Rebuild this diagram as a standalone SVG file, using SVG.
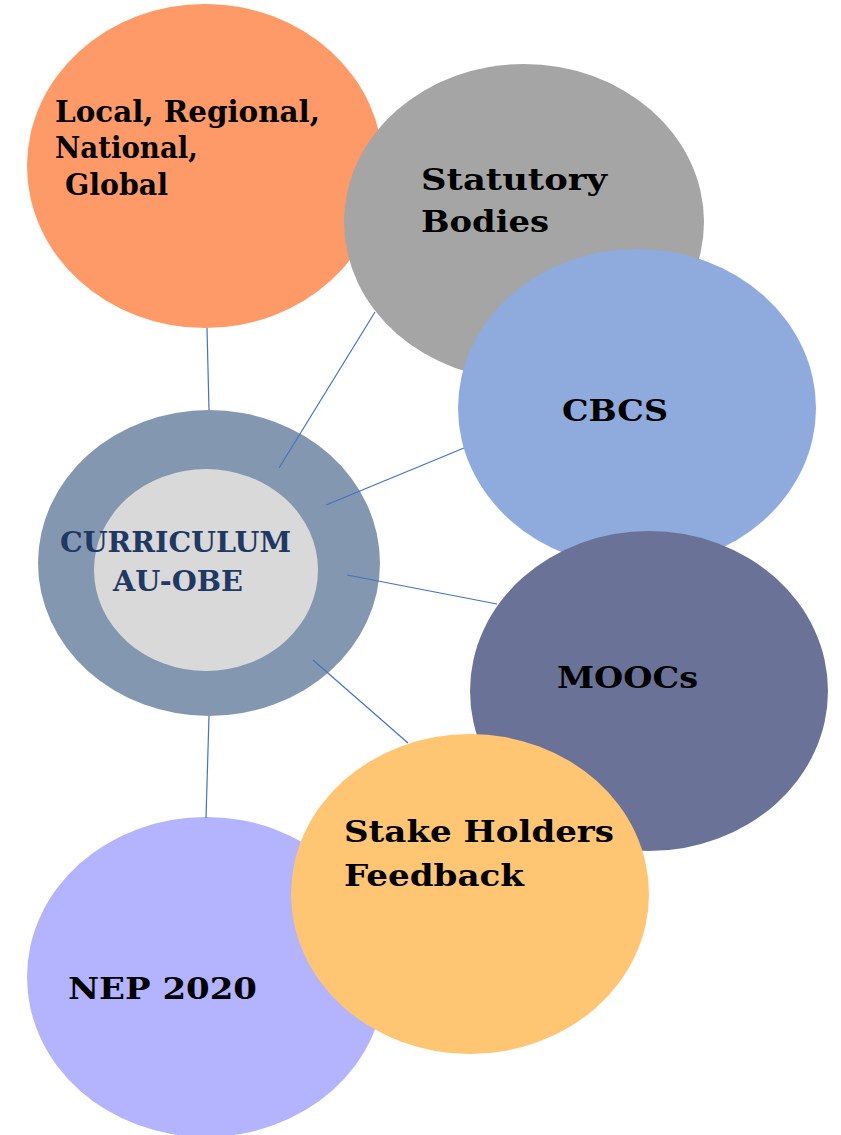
<svg xmlns="http://www.w3.org/2000/svg" width="841" height="1135" viewBox="0 0 841 1135">
<style>
text{font-family:"DejaVu Serif","Liberation Serif",serif;font-weight:bold;fill:#000}
.big{font-size:30px}
.ctr{font-size:27px;fill:#1F3864}
.conn line{stroke:#4472C4;stroke-width:1.2}
</style>
<rect width="841" height="1135" fill="#fff"/>
<g id="local"><ellipse cx="205" cy="166" rx="178" ry="162" fill="#FD9A68"/></g>
<g id="statutory"><ellipse cx="524" cy="222" rx="180" ry="158" fill="#A5A5A5"/></g>
<g id="cbcs"><ellipse cx="637" cy="408" rx="179" ry="159" fill="#8FAADC"/></g>
<g id="moocs"><ellipse cx="649" cy="691" rx="179" ry="160" fill="#6A7397"/></g>
<g id="nep"><ellipse cx="206" cy="977" rx="179" ry="160" fill="#B3B3FE"/></g>
<g id="stake"><ellipse cx="470" cy="894" rx="179" ry="160" fill="#FEC573"/></g>
<g id="curriculum">
<ellipse cx="209" cy="563" rx="171" ry="153" fill="#8497B0"/>
<ellipse cx="206" cy="570" rx="112" ry="101" fill="#D9D9D9"/>
</g>
<g class="conn" id="connectors">
<line x1="207" y1="328" x2="209" y2="410"/>
<line x1="375" y1="312" x2="279" y2="468"/>
<line x1="464" y1="448" x2="326" y2="505"/>
<line x1="347" y1="575" x2="497" y2="604"/>
<line x1="313" y1="660" x2="408" y2="743"/>
<line x1="209" y1="716" x2="206" y2="818"/>
</g>
<g id="labels">
<text class="big" x="55" y="122" textLength="265" lengthAdjust="spacingAndGlyphs">Local, Regional,</text>
<text class="big" x="55" y="158" textLength="143" lengthAdjust="spacingAndGlyphs">National,</text>
<text class="big" x="65" y="195" textLength="103" lengthAdjust="spacingAndGlyphs">Global</text>
<text class="big" x="421" y="190" textLength="186" lengthAdjust="spacingAndGlyphs">Statutory</text>
<text class="big" x="421" y="232" textLength="128" lengthAdjust="spacingAndGlyphs">Bodies</text>
<text class="big" x="562" y="421" textLength="106" lengthAdjust="spacingAndGlyphs">CBCS</text>
<text class="big" x="557" y="688" textLength="141" lengthAdjust="spacingAndGlyphs">MOOCs</text>
<text class="big" x="344" y="842" textLength="270" lengthAdjust="spacingAndGlyphs">Stake Holders</text>
<text class="big" x="344" y="886" textLength="180" lengthAdjust="spacingAndGlyphs">Feedback</text>
<text class="big" x="68" y="999" textLength="189" lengthAdjust="spacingAndGlyphs">NEP 2020</text>
<text class="ctr" x="60" y="552" textLength="231" lengthAdjust="spacingAndGlyphs">CURRICULUM</text>
<text class="ctr" x="113" y="591" textLength="130" lengthAdjust="spacingAndGlyphs">AU-OBE</text>
</g>
</svg>
